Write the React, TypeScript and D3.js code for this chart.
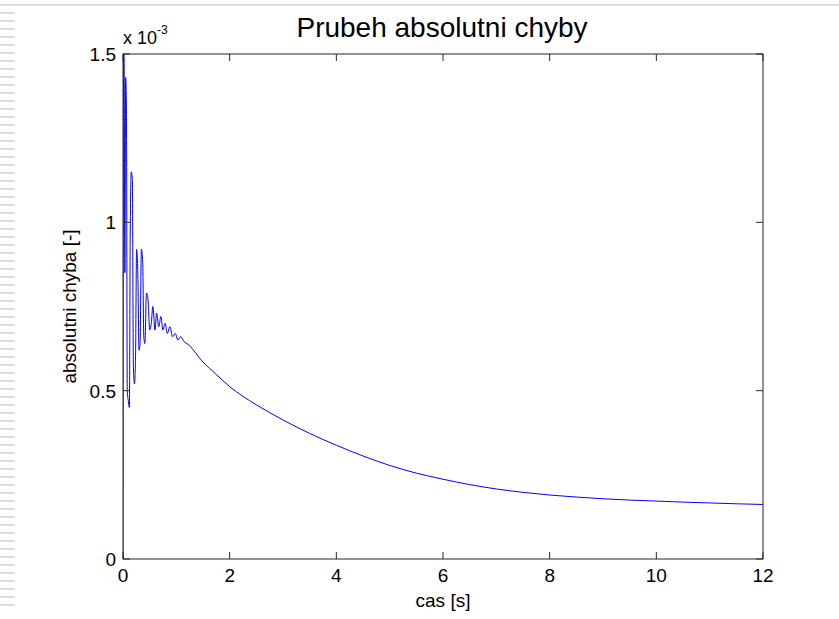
import React from "react";
import * as d3 from "d3";

// time [s] and absolute error (x 1e-3)
const times = [
  0, 0.01, 0.02, 0.035, 0.05, 0.065, 0.08, 0.1, 0.12, 0.135, 0.155, 0.175, 0.195, 0.215,
  0.235, 0.255, 0.28, 0.3, 0.32, 0.345, 0.37, 0.39, 0.41, 0.44, 0.47, 0.5, 0.53, 0.56,
  0.6, 0.63, 0.67, 0.71, 0.75, 0.79, 0.83, 0.88, 0.93, 0.98, 1.03, 1.08, 1.15, 1.2, 1.5,
  1.75, 2, 2.25, 2.5, 3, 3.5, 4, 4.5, 5, 5.5, 6, 6.5, 7, 7.5, 8, 8.5, 9, 9.5, 10, 10.5,
  11, 11.5, 12,
];
const errors = [
  0, 1.5, 1.5, 0.85, 1.43, 1.32, 0.5, 0.47, 0.45, 0.95, 1.15, 1.13, 0.57, 0.52, 0.6,
  0.92, 0.83, 0.62, 0.64, 0.92, 0.88, 0.66, 0.64, 0.79, 0.77, 0.68, 0.7, 0.75, 0.68, 0.73,
  0.69, 0.72, 0.68, 0.7, 0.67, 0.69, 0.66, 0.67, 0.65, 0.66, 0.645, 0.64, 0.585,
  0.548, 0.512, 0.483, 0.458, 0.413, 0.373, 0.338, 0.306, 0.278, 0.255, 0.237, 0.221,
  0.208, 0.198, 0.19, 0.184, 0.179, 0.175, 0.172, 0.169, 0.1665, 0.164, 0.162,
];
const xTicks = [0, 2, 4, 6, 8, 10, 12];
const yTicks = [0, 0.5, 1, 1.5];

const W = 839;
const H = 619;
const left = 123;
const right = 763;
const top = 54;
const bottom = 559;
const font = "'Liberation Sans', Arial, sans-serif";
const axisColor = "#262626";

export default function App() {
  const x = d3.scaleLinear().domain([0, 12]).range([left, right]);
  const y = d3.scaleLinear().domain([0, 1.5]).range([bottom, top]);

  const points: [number, number][] = times.map((t, i) => [t, errors[i]]);
  const line = d3
    .line<[number, number]>()
    .x((d) => x(d[0]))
    .y((d) => y(d[1]))
    .curve(d3.curveMonotoneX);

  const dashes = d3.range(13, 612, 8);
  const tickLen = 7;

  return (
    <svg
      width={W}
      height={H}
      style={{ position: "absolute", left: 0, top: 0, background: "#fff" }}
    >
      <rect width={W} height={H} fill="#fff" />
      {/* slide decorations */}
      <line x1={0} x2={W} y1={5} y2={5} stroke="#dcdcdc" strokeWidth={2} />
      {dashes.map((d) => (
        <line key={d} x1={0} x2={15} y1={d} y2={d} stroke="#d0d0d0" strokeWidth={1.5} />
      ))}

      <defs>
        <clipPath id="plot">
          <rect x={left} y={top} width={right - left} height={bottom - top} />
        </clipPath>
      </defs>

      <path
        d={line(points) ?? ""}
        fill="none"
        stroke="#0000ff"
        strokeWidth={1}
        clipPath="url(#plot)"
      />

      {/* frame */}
      <rect
        x={left}
        y={top}
        width={right - left}
        height={bottom - top}
        fill="none"
        stroke={axisColor}
        strokeWidth={1}
      />

      {xTicks.map((t) => (
        <g key={"x" + t}>
          <line x1={x(t)} x2={x(t)} y1={bottom} y2={bottom - tickLen} stroke={axisColor} />
          <line x1={x(t)} x2={x(t)} y1={top} y2={top + tickLen} stroke={axisColor} />
          <text
            x={x(t)}
            y={bottom + 23}
            textAnchor="middle"
            fontFamily={font}
            fontSize={19}
            fill="#000"
          >
            {t}
          </text>
        </g>
      ))}

      {yTicks.map((v) => (
        <g key={"y" + v}>
          <line x1={left} x2={left + tickLen} y1={y(v)} y2={y(v)} stroke={axisColor} />
          <line x1={right} x2={right - tickLen} y1={y(v)} y2={y(v)} stroke={axisColor} />
          <text
            x={left - 7}
            y={y(v) + 7}
            textAnchor="end"
            fontFamily={font}
            fontSize={19}
            fill="#000"
          >
            {v}
          </text>
        </g>
      ))}

      {/* exponent */}
      <text x={left} y={44} fontFamily={font} fontSize={18} fill="#000">
        x 10
        <tspan dy={-10} fontSize={12}>
          -3
        </tspan>
      </text>

      <text
        x={442}
        y={37}
        textAnchor="middle"
        fontFamily={font}
        fontSize={28}
        fill="#000"
      >
        Prubeh absolutni chyby
      </text>

      <text
        x={(left + right) / 2}
        y={607}
        textAnchor="middle"
        fontFamily={font}
        fontSize={19}
        fill="#000"
      >
        cas [s]
      </text>

      <text
        transform={`translate(76, ${(top + bottom) / 2}) rotate(-90)`}
        textAnchor="middle"
        fontFamily={font}
        fontSize={19}
        fill="#000"
      >
        absolutni chyba [-]
      </text>
    </svg>
  );
}
